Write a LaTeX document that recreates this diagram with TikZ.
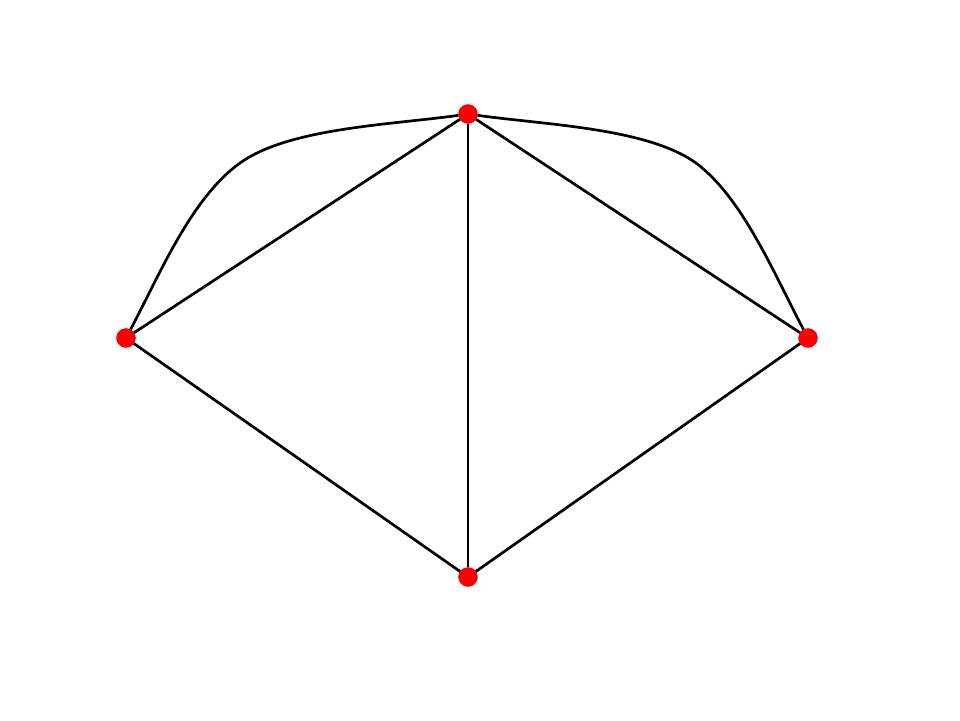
\documentclass[tikz,border=0pt]{standalone}
\begin{document}
\begin{tikzpicture}[x=1pt,y=-1pt,
  dot/.style={circle,fill=red,draw=red!85!black,line width=0.4pt,minimum width=19pt,minimum height=19pt,inner sep=0pt},
  edge/.style={draw=black,line width=2.7pt}]
\useasboundingbox (0,0) rectangle (960,720);
\fill[white] (0,0) rectangle (960,720);
\node[dot] (T) at (468,114) {};
\node[dot] (L) at (126,338) {};
\node[dot] (R) at (808,338) {};
\node[dot] (B) at (468,577) {};
\draw[edge] (L) -- (T);
\draw[edge] (T) -- (R);
\draw[edge] (T) -- (B);
\draw[edge] (L) -- (B);
\draw[edge] (R) -- (B);
\draw[edge] (L) .. controls (159,276) and (191,198) .. (240,163) .. controls (289,128) and (389,125) .. (T);
\draw[edge] (R) .. controls (775,276) and (743,198) .. (696,163) .. controls (647,128) and (547,125) .. (T);
\end{tikzpicture}
\end{document}
